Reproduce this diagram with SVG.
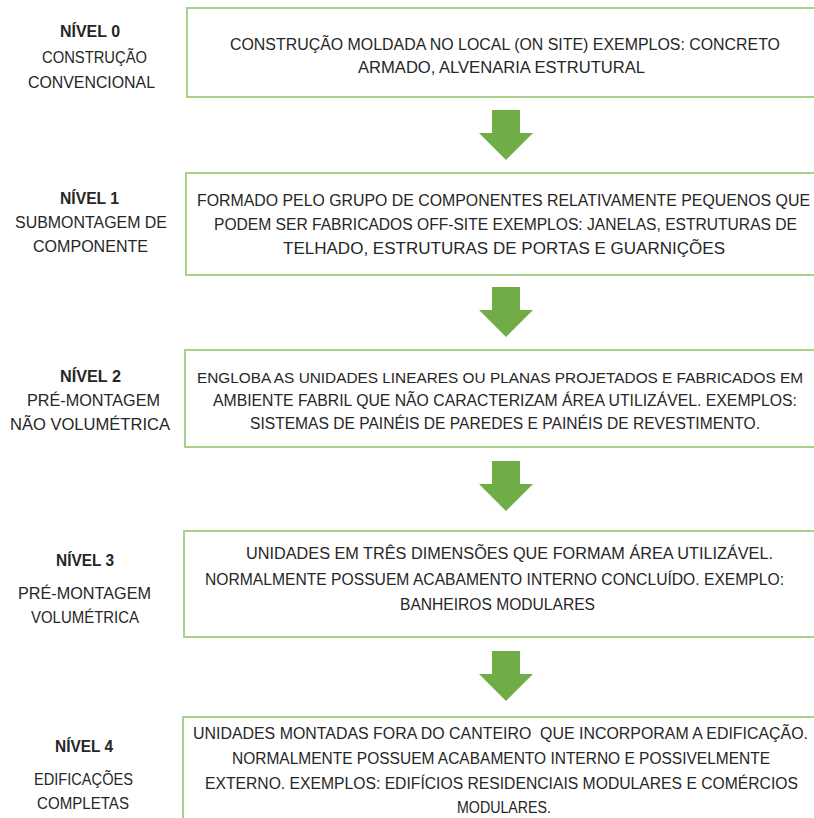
<svg xmlns="http://www.w3.org/2000/svg" width="814" height="818" viewBox="0 0 814 818">
<defs>
<style>
.box{fill:#ffffff;stroke:#a9d18e;stroke-width:2}
.arrow{fill:#70ad47}
text{font-family:"Liberation Sans","Open Sans",sans-serif;font-size:16px;fill:#262626}
.b{font-weight:bold}
</style>
<path id="arr" d="M-14,0 H14 V23 H27 L0,50 L-27,23 H-14 Z"/>
</defs>
<rect width="814" height="818" fill="#ffffff"/>
<g id="connectors">
<use href="#arr" class="arrow" x="506" y="110"/>
<use href="#arr" class="arrow" x="506" y="287"/>
<use href="#arr" class="arrow" x="506" y="461"/>
<use href="#arr" class="arrow" x="506" y="651"/>
</g>
<g id="level0">
<text class="b" x="60" y="37" textLength="60" lengthAdjust="spacingAndGlyphs">NÍVEL 0</text>
<text x="42" y="63" textLength="105" lengthAdjust="spacingAndGlyphs">CONSTRUÇÃO</text>
<text x="28" y="88" textLength="127" lengthAdjust="spacingAndGlyphs">CONVENCIONAL</text>
<rect class="box" x="187" y="8" width="640" height="89"/>
<text x="230" y="50" textLength="550" lengthAdjust="spacingAndGlyphs">CONSTRUÇÃO MOLDADA NO LOCAL (ON SITE) EXEMPLOS: CONCRETO</text>
<text x="358" y="73" textLength="287" lengthAdjust="spacingAndGlyphs">ARMADO, ALVENARIA ESTRUTURAL</text>
</g>
<g id="level1">
<text class="b" x="60" y="204" textLength="59" lengthAdjust="spacingAndGlyphs">NÍVEL 1</text>
<text x="15" y="228" textLength="152" lengthAdjust="spacingAndGlyphs">SUBMONTAGEM DE</text>
<text x="33" y="252" textLength="115" lengthAdjust="spacingAndGlyphs">COMPONENTE</text>
<rect class="box" x="186" y="173" width="640" height="102"/>
<text x="197" y="206" textLength="613" lengthAdjust="spacingAndGlyphs">FORMADO PELO GRUPO DE COMPONENTES RELATIVAMENTE PEQUENOS QUE</text>
<text x="214" y="230" textLength="583" lengthAdjust="spacingAndGlyphs">PODEM SER FABRICADOS OFF-SITE EXEMPLOS: JANELAS, ESTRUTURAS DE</text>
<text x="283" y="254" textLength="442" lengthAdjust="spacingAndGlyphs">TELHADO, ESTRUTURAS DE PORTAS E GUARNIÇÕES</text>
</g>
<g id="level2">
<text class="b" x="60" y="382" textLength="61" lengthAdjust="spacingAndGlyphs">NÍVEL 2</text>
<text x="27" y="406" textLength="133" lengthAdjust="spacingAndGlyphs">PRÉ-MONTAGEM</text>
<text x="10" y="430" textLength="160" lengthAdjust="spacingAndGlyphs">NÃO VOLUMÉTRICA</text>
<rect class="box" x="185" y="350" width="640" height="97"/>
<text x="197" y="383" textLength="606" lengthAdjust="spacingAndGlyphs" style="font-size:15.5px">ENGLOBA AS UNIDADES LINEARES OU PLANAS PROJETADOS E FABRICADOS EM</text>
<text x="213" y="406" textLength="584" lengthAdjust="spacingAndGlyphs">AMBIENTE FABRIL QUE NÃO CARACTERIZAM ÁREA UTILIZÁVEL. EXEMPLOS:</text>
<text x="250" y="429" textLength="510" lengthAdjust="spacingAndGlyphs">SISTEMAS DE PAINÉIS DE PAREDES E PAINÉIS DE REVESTIMENTO.</text>
</g>
<g id="level3">
<text class="b" x="56" y="566" textLength="58" lengthAdjust="spacingAndGlyphs">NÍVEL 3</text>
<text x="18" y="599" textLength="133" lengthAdjust="spacingAndGlyphs">PRÉ-MONTAGEM</text>
<text x="31" y="623" textLength="108" lengthAdjust="spacingAndGlyphs">VOLUMÉTRICA</text>
<rect class="box" x="184" y="531" width="640" height="106"/>
<text x="246" y="559" textLength="527" lengthAdjust="spacingAndGlyphs">UNIDADES EM TRÊS DIMENSÕES QUE FORMAM ÁREA UTILIZÁVEL.</text>
<text x="205" y="585" textLength="579" lengthAdjust="spacingAndGlyphs">NORMALMENTE POSSUEM ACABAMENTO INTERNO CONCLUÍDO. EXEMPLO:</text>
<text x="400" y="610" textLength="195" lengthAdjust="spacingAndGlyphs">BANHEIROS MODULARES</text>
</g>
<g id="level4">
<text class="b" x="55" y="752" textLength="58" lengthAdjust="spacingAndGlyphs">NÍVEL 4</text>
<text x="34" y="785" textLength="99" lengthAdjust="spacingAndGlyphs">EDIFICAÇÕES</text>
<text x="37" y="809" textLength="92" lengthAdjust="spacingAndGlyphs">COMPLETAS</text>
<rect class="box" x="183" y="717" width="640" height="120"/>
<text x="193" y="739" textLength="615" lengthAdjust="spacingAndGlyphs">UNIDADES MONTADAS FORA DO CANTEIRO&#160; QUE INCORPORAM A EDIFICAÇÃO.</text>
<text x="232" y="764" textLength="538" lengthAdjust="spacingAndGlyphs">NORMALMENTE POSSUEM ACABAMENTO INTERNO E POSSIVELMENTE</text>
<text x="205" y="789" textLength="593" lengthAdjust="spacingAndGlyphs">EXTERNO. EXEMPLOS: EDIFÍCIOS RESIDENCIAIS MODULARES E COMÉRCIOS</text>
<text x="457" y="813" textLength="94" lengthAdjust="spacingAndGlyphs">MODULARES.</text>
</g>
</svg>
